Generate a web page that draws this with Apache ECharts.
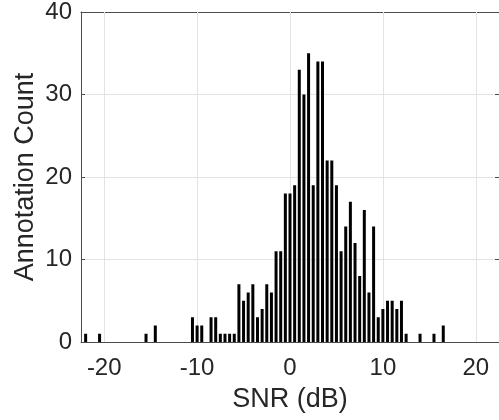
<!DOCTYPE html>
<html>
<head>
<meta charset="utf-8">
<script src="https://cdn.jsdelivr.net/npm/echarts@6/dist/echarts.min.js"></script>
<style>html,body{margin:0;padding:0;background:#fff}#c{width:499px;height:420px}</style>
</head>
<body>
<div id="c"></div>
<script>
// SNR bin centres (dB) and annotation counts
const snrBins = [-22, -20.5, -15.5, -14.5, -10.5, -10, -9.5, -8.5, -8, -7.5, -7, -6.5, -6,
  -5.5, -5, -4.5, -4, -3.5, -3, -2.5, -2, -1.5, -1, -0.5, 0, 0.5, 1, 1.5, 2, 2.5, 3, 3.5,
  4, 4.5, 5, 5.5, 6, 6.5, 7, 7.5, 8, 8.5, 9, 9.5, 10, 10.5, 11, 11.5, 12, 12.5, 14, 15.5, 16.5];
const counts = [1, 1, 1, 2, 3, 2, 2, 3, 3, 1, 1, 1, 1,
  7, 5, 6, 7, 3, 4, 7, 6, 11, 11, 18, 18, 19, 33, 30, 35, 19, 34, 34,
  22, 22, 19, 11, 14, 17, 12, 8, 16, 6, 14, 3, 4, 5, 5, 4, 5, 1, 1, 1, 2];
const xTicks = [-20, -10, 0, 10, 20];

const textColor = '#262626';
const lineColor = '#4d4d4d';
const font = "'Liberation Sans', Arial, sans-serif";
const chart = echarts.init(document.getElementById('c'), null, {renderer: 'canvas'});
const data = snrBins.map((x, i) => [x, counts[i]]);

chart.setOption({
  animation: false,
  backgroundColor: '#fff',
  grid: {left: 81, right: -2, top: 12, bottom: 78, containLabel: false},
  xAxis: [{
    type: 'value', min: -22.5, max: 22.5, position: 'bottom',
    name: 'SNR (dB)', nameLocation: 'middle', nameGap: 44,
    nameTextStyle: {fontSize: 27, color: textColor, fontFamily: font},
    axisLine: {show: true, onZero: false, lineStyle: {color: lineColor, width: 1}},
    axisTick: {show: true, inside: true, length: 4, customValues: xTicks, lineStyle: {color: lineColor}},
    axisLabel: {show: true, customValues: xTicks, fontSize: 24, color: textColor, fontFamily: font, margin: 14},
    splitLine: {show: false}
  }, {
    type: 'value', min: -22.5, max: 22.5, position: 'top',
    axisLine: {show: true, onZero: false, lineStyle: {color: lineColor, width: 1}},
    axisTick: {show: true, inside: true, length: 4, customValues: xTicks, lineStyle: {color: lineColor}},
    axisLabel: {show: false},
    splitLine: {show: false}
  }],
  yAxis: [{
    type: 'value', min: 0, max: 40, interval: 10, position: 'left',
    name: 'Annotation Count', nameLocation: 'middle', nameGap: 42, nameMoveOverlap: false,
    nameTextStyle: {fontSize: 27, color: textColor, fontFamily: font},
    axisLine: {show: true, onZero: false, lineStyle: {color: lineColor, width: 1}},
    axisTick: {show: true, inside: true, length: 4, lineStyle: {color: lineColor}},
    axisLabel: {fontSize: 24, color: textColor, fontFamily: font, margin: 9},
    splitLine: {show: true, lineStyle: {color: '#e3e3e3', width: 1}}
  }, {
    type: 'value', min: 0, max: 40, interval: 10, position: 'right',
    axisLine: {show: true, onZero: false, lineStyle: {color: lineColor, width: 1}},
    axisTick: {show: true, inside: true, length: 4, lineStyle: {color: lineColor}},
    axisLabel: {show: false},
    splitLine: {show: false}
  }],
  series: [{
    type: 'bar',
    xAxisIndex: 0, yAxisIndex: 0,
    data: data,
    barWidth: 3,
    itemStyle: {color: '#000'},
    z: 3,
    markLine: {
      silent: true, symbol: 'none', label: {show: false},
      lineStyle: {color: '#e3e3e3', width: 1, type: 'solid'},
      z: 1,
      data: xTicks.map(v => ({xAxis: v}))
    }
  }]
});
</script>
</body>
</html>
